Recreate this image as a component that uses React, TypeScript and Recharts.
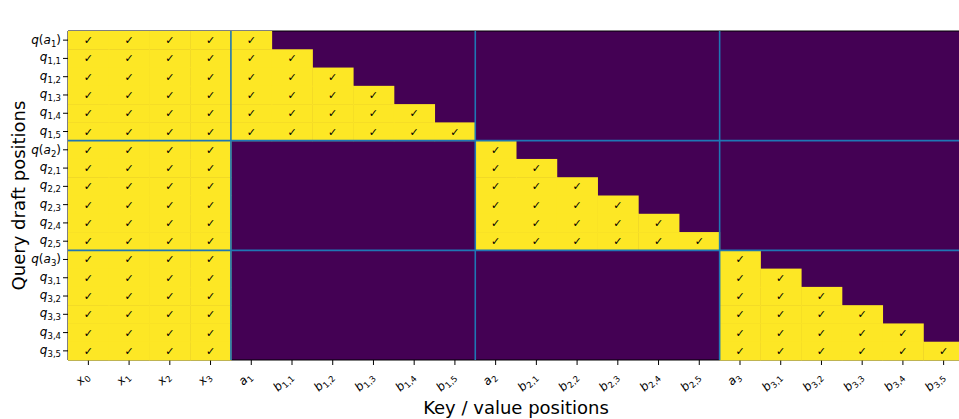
import React from "react";
import { ScatterChart, Scatter, XAxis, YAxis, CartesianGrid } from "recharts";

// key / value columns (base_sub)
const keyLabels = [
  "x_0", "x_1", "x_2", "x_3",
  "a_1", "b_1,1", "b_1,2", "b_1,3", "b_1,4", "b_1,5",
  "a_2", "b_2,1", "b_2,2", "b_2,3", "b_2,4", "b_2,5",
  "a_3", "b_3,1", "b_3,2", "b_3,3", "b_3,4", "b_3,5",
];

// query rows
const queryLabels = [
  "q(a_1)", "q_1,1", "q_1,2", "q_1,3", "q_1,4", "q_1,5",
  "q(a_2)", "q_2,1", "q_2,2", "q_2,3", "q_2,4", "q_2,5",
  "q(a_3)", "q_3,1", "q_3,2", "q_3,3", "q_3,4", "q_3,5",
];

const blockTitles = ["Verified prefix", "Sampled block 1", "Sampled block 2", "Sampled block 3"];
const blockCenters = [2, 7, 13, 19];
const colBreaks = [4, 10, 16];
const rowBreaks = [6, 12];

// 1 = attended (✓)
const mask = [
  [1, 1, 1, 1, 1, 0, 0, 0, 0, 0, 0, 0, 0, 0, 0, 0, 0, 0, 0, 0, 0, 0],
  [1, 1, 1, 1, 1, 1, 0, 0, 0, 0, 0, 0, 0, 0, 0, 0, 0, 0, 0, 0, 0, 0],
  [1, 1, 1, 1, 1, 1, 1, 0, 0, 0, 0, 0, 0, 0, 0, 0, 0, 0, 0, 0, 0, 0],
  [1, 1, 1, 1, 1, 1, 1, 1, 0, 0, 0, 0, 0, 0, 0, 0, 0, 0, 0, 0, 0, 0],
  [1, 1, 1, 1, 1, 1, 1, 1, 1, 0, 0, 0, 0, 0, 0, 0, 0, 0, 0, 0, 0, 0],
  [1, 1, 1, 1, 1, 1, 1, 1, 1, 1, 0, 0, 0, 0, 0, 0, 0, 0, 0, 0, 0, 0],
  [1, 1, 1, 1, 0, 0, 0, 0, 0, 0, 1, 0, 0, 0, 0, 0, 0, 0, 0, 0, 0, 0],
  [1, 1, 1, 1, 0, 0, 0, 0, 0, 0, 1, 1, 0, 0, 0, 0, 0, 0, 0, 0, 0, 0],
  [1, 1, 1, 1, 0, 0, 0, 0, 0, 0, 1, 1, 1, 0, 0, 0, 0, 0, 0, 0, 0, 0],
  [1, 1, 1, 1, 0, 0, 0, 0, 0, 0, 1, 1, 1, 1, 0, 0, 0, 0, 0, 0, 0, 0],
  [1, 1, 1, 1, 0, 0, 0, 0, 0, 0, 1, 1, 1, 1, 1, 0, 0, 0, 0, 0, 0, 0],
  [1, 1, 1, 1, 0, 0, 0, 0, 0, 0, 1, 1, 1, 1, 1, 1, 0, 0, 0, 0, 0, 0],
  [1, 1, 1, 1, 0, 0, 0, 0, 0, 0, 0, 0, 0, 0, 0, 0, 1, 0, 0, 0, 0, 0],
  [1, 1, 1, 1, 0, 0, 0, 0, 0, 0, 0, 0, 0, 0, 0, 0, 1, 1, 0, 0, 0, 0],
  [1, 1, 1, 1, 0, 0, 0, 0, 0, 0, 0, 0, 0, 0, 0, 0, 1, 1, 1, 0, 0, 0],
  [1, 1, 1, 1, 0, 0, 0, 0, 0, 0, 0, 0, 0, 0, 0, 0, 1, 1, 1, 1, 0, 0],
  [1, 1, 1, 1, 0, 0, 0, 0, 0, 0, 0, 0, 0, 0, 0, 0, 1, 1, 1, 1, 1, 0],
  [1, 1, 1, 1, 0, 0, 0, 0, 0, 0, 0, 0, 0, 0, 0, 0, 1, 1, 1, 1, 1, 1],
];

const FONT = "DejaVu Sans";
const YELLOW = "#fde725";
const PURPLE = "#440154";
const LINE = "#1f77b4";

const CHART_W = 970;
const CHART_H = 419;
const Y_AXIS_W = 68;
const TOP_H = 31;
const BOTTOM_H = 59;
const RIGHT = 6;
const nCols = keyLabels.length;
const nRows = queryLabels.length;
const CELL_W = (CHART_W - Y_AXIS_W - RIGHT) / nCols;
const CELL_H = (CHART_H - TOP_H - BOTTOM_H) / nRows;

const cells: { x: number; y: number }[] = [];
mask.forEach((row, r) =>
  row.forEach((v, c) => {
    if (v) cells.push({ x: c + 0.5, y: r + 0.5 });
  })
);

// block separators as two-point segments
const vSegments = colBreaks.map((c) => [{ x: c, y: 0 }, { x: c, y: nRows }]);
const hSegments = rowBreaks.map((r) => [{ x: 0, y: r }, { x: nCols, y: r }]);

const colTicks = keyLabels.map((_, i) => i + 0.5);
const rowTicks = queryLabels.map((_, i) => i + 0.5);

function CellShape(props: any) {
  const { cx, cy } = props;
  return (
    <g>
      <rect x={cx - CELL_W / 2} y={cy - CELL_H / 2} width={CELL_W + 0.5} height={CELL_H + 0.5} fill={YELLOW} />
      <text x={cx} y={cy + 4} textAnchor="middle" fontSize={11} fontFamily={FONT} fill="#000">✓</text>
    </g>
  );
}

const NoDot = () => <g />;

function renderKeyTick(props: any) {
  const x = Number(props.x) + 1;
  const y = Number(props.y) + 10;
  const label = keyLabels[Math.round(props.payload.value - 0.5)];
  const [base, sub] = label.split("_");
  return (
    <g key={`k${props.index}`} transform={`translate(${x},${y})`}>
      <g transform="rotate(-45)">
        <text x={0} y={0} textAnchor="end" fontSize={12} fontFamily={FONT} fill="#000">
          <tspan fontStyle="italic">{base}</tspan>
          <tspan fontSize={8.5} dy={3}>{sub}</tspan>
        </text>
      </g>
    </g>
  );
}

function QueryTick({ x, y, payload }: any) {
  const label = queryLabels[Math.round(payload.value - 0.5)];
  if (label.startsWith("q(")) {
    const sub = label.slice(4, -1);
    return (
      <text x={x} y={y + 4} textAnchor="end" fontSize={12} fontFamily={FONT} fill="#000">
        <tspan fontStyle="italic">q</tspan>
        <tspan>(</tspan>
        <tspan fontStyle="italic">a</tspan>
        <tspan fontSize={8.5} dy={3}>{sub}</tspan>
        <tspan dy={-3}>)</tspan>
      </text>
    );
  }
  const sub = label.split("_")[1];
  return (
    <text x={x} y={y + 3} textAnchor="end" fontSize={12} fontFamily={FONT} fill="#000">
      <tspan fontStyle="italic">q</tspan>
      <tspan fontSize={8.5} dy={3}>{sub}</tspan>
    </text>
  );
}

function TitleTick({ x, payload }: any) {
  const title = blockTitles[blockCenters.indexOf(payload.value)];
  return (
    <text x={x} y={17} textAnchor="middle" fontSize={14} fontFamily={FONT} fill="#000">{title}</text>
  );
}

export default function App() {
  return (
    <div style={{ position: "absolute", left: 0, top: 0, width: 959, height: 419, overflow: "hidden", background: "#fff" }}>
      <ScatterChart width={CHART_W} height={CHART_H} margin={{ top: 0, right: RIGHT, bottom: 0, left: 0 }}>
        <CartesianGrid fill={PURPLE} horizontal={false} vertical={false} />
        <XAxis
          xAxisId="top" orientation="top" type="number" dataKey="x" domain={[0, nCols]}
          ticks={blockCenters} interval={0} height={TOP_H} tickLine={false}
          axisLine={{ stroke: "#000" }} tick={<TitleTick />}
        />
        <XAxis
          type="number" dataKey="x" domain={[0, nCols]} ticks={colTicks} interval={0}
          height={BOTTOM_H} tickSize={5} tickLine={{ stroke: "#000" }} axisLine={{ stroke: "#000" }}
          tick={renderKeyTick}
          label={{ value: "Key / value positions", position: "insideBottom", offset: 5, fontSize: 18, fontFamily: FONT, fill: "#000" }}
        />
        <YAxis
          type="number" dataKey="y" domain={[0, nRows]} reversed ticks={rowTicks} interval={0}
          width={Y_AXIS_W} tickSize={5} tickLine={{ stroke: "#000" }} axisLine={{ stroke: "#000" }}
          tick={<QueryTick />}
          label={{ value: "Query draft positions", angle: -90, position: "insideLeft", offset: 19, fontSize: 18, fontFamily: FONT, fill: "#000", style: { textAnchor: "middle" } }}
        />
        <Scatter data={cells} shape={<CellShape />} isAnimationActive={false} />
        {vSegments.map((seg, i) => (
          <Scatter key={`v${i}`} data={seg} shape={<NoDot />} line={{ stroke: LINE, strokeWidth: 1.6 }} isAnimationActive={false} />
        ))}
        {hSegments.map((seg, i) => (
          <Scatter key={`h${i}`} data={seg} shape={<NoDot />} line={{ stroke: LINE, strokeWidth: 1.6 }} isAnimationActive={false} />
        ))}
      </ScatterChart>
    </div>
  );
}
